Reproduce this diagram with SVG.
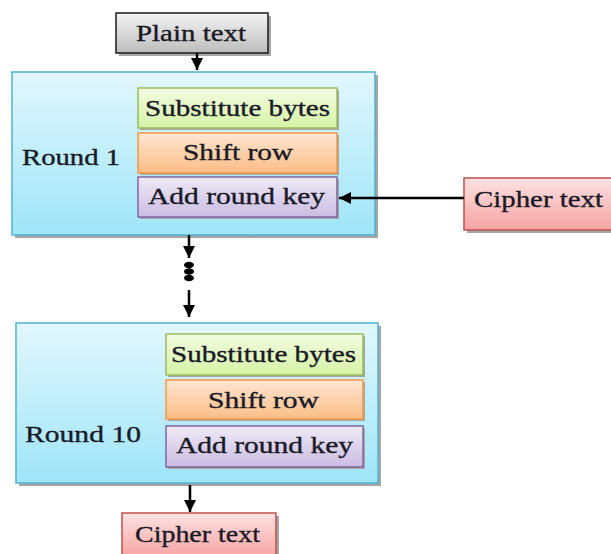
<svg xmlns="http://www.w3.org/2000/svg" width="611" height="554" viewBox="0 0 611 554">
<defs>
<linearGradient id="gGray" x1="0" y1="0" x2="0" y2="1"><stop offset="0" stop-color="#f4f4f4"/><stop offset="1" stop-color="#bdbdbd"/></linearGradient>
<linearGradient id="gBlue" x1="0" y1="0" x2="0" y2="1"><stop offset="0" stop-color="#e2f7fd"/><stop offset="1" stop-color="#9fe5f9"/></linearGradient>
<linearGradient id="gGreen" x1="0" y1="0" x2="0" y2="1"><stop offset="0" stop-color="#f3fce2"/><stop offset="1" stop-color="#d5f3a6"/></linearGradient>
<linearGradient id="gOrange" x1="0" y1="0" x2="0" y2="1"><stop offset="0" stop-color="#fee6d2"/><stop offset="1" stop-color="#fbbd86"/></linearGradient>
<linearGradient id="gPurple" x1="0" y1="0" x2="0" y2="1"><stop offset="0" stop-color="#efeaf6"/><stop offset="1" stop-color="#cbbce2"/></linearGradient>
<linearGradient id="gRed" x1="0" y1="0" x2="0" y2="1"><stop offset="0" stop-color="#fde2e2"/><stop offset="1" stop-color="#f7a3a3"/></linearGradient>
<marker id="ah2" viewBox="0 0 10 10" refX="10" refY="5" markerWidth="14" markerHeight="12" orient="auto" markerUnits="userSpaceOnUse">
<path d="M0,0 L10,5 L0,10 z" fill="#000"/>
</marker>
</defs>
<style>
text{font-family:"Liberation Serif","Times New Roman",serif;font-size:23px;fill:#1a1a26;stroke:#1a1a26;stroke-width:0.35}
.sh{fill:#a6a6a6}
.gray{fill:url(#gGray);stroke:#1a1a1a;stroke-width:1.5}
.blue{fill:url(#gBlue);stroke:#4fb3cf;stroke-width:1.5}
.green{fill:url(#gGreen);stroke:#9bbb59;stroke-width:1.5}
.orange{fill:url(#gOrange);stroke:#f79646;stroke-width:1.5}
.purple{fill:url(#gPurple);stroke:#8064a2;stroke-width:1.5}
.red{fill:url(#gRed);stroke:#c0504d;stroke-width:1.5}
.conn{stroke:#000;stroke-width:2.5;fill:none}
</style>
<rect width="611" height="554" fill="#fff"/>

<g id="plain">
<rect class="sh" x="119" y="16" width="152" height="40"/>
<rect class="gray" x="116" y="13" width="152" height="40"/>
<text x="136" y="41" textLength="110" lengthAdjust="spacingAndGlyphs">Plain text</text>
</g>

<g id="round1">
<rect class="sh" x="15" y="75" width="363" height="163"/>
<rect class="blue" x="12" y="72" width="363" height="163"/>
<text x="22" y="165" textLength="98" lengthAdjust="spacingAndGlyphs">Round 1</text>
</g>
<g id="r1-sub">
<rect class="sh" x="140" y="90" width="199" height="40"/>
<rect class="green" x="138" y="88" width="199" height="40"/>
<text x="145" y="116" textLength="185" lengthAdjust="spacingAndGlyphs">Substitute bytes</text>
</g>
<g id="r1-shift">
<rect class="sh" x="140" y="135" width="199" height="40"/>
<rect class="orange" x="138" y="133" width="199" height="40"/>
<text x="183" y="160" textLength="110" lengthAdjust="spacingAndGlyphs">Shift row</text>
</g>
<g id="r1-add">
<rect class="sh" x="140" y="179" width="199" height="40"/>
<rect class="purple" x="138" y="177" width="199" height="40"/>
<text x="148" y="204" textLength="177" lengthAdjust="spacingAndGlyphs">Add round key</text>
</g>

<g id="cipher-in">
<rect class="sh" x="467" y="181" width="150" height="52"/>
<rect class="red" x="464" y="178" width="150" height="52"/>
<text x="474" y="207" textLength="129" lengthAdjust="spacingAndGlyphs">Cipher text</text>
</g>

<g id="round10">
<rect class="sh" x="19" y="326" width="362" height="160"/>
<rect class="blue" x="16" y="323" width="362" height="160"/>
<text x="25" y="442" textLength="116" lengthAdjust="spacingAndGlyphs">Round 10</text>
</g>
<g id="r10-sub">
<rect class="sh" x="168" y="336" width="197" height="41"/>
<rect class="green" x="166" y="334" width="197" height="41"/>
<text x="171" y="362" textLength="185" lengthAdjust="spacingAndGlyphs">Substitute bytes</text>
</g>
<g id="r10-shift">
<rect class="sh" x="168" y="382" width="197" height="39"/>
<rect class="orange" x="166" y="380" width="197" height="39"/>
<text x="208" y="408" textLength="111" lengthAdjust="spacingAndGlyphs">Shift row</text>
</g>
<g id="r10-add">
<rect class="sh" x="168" y="428" width="197" height="41"/>
<rect class="purple" x="166" y="426" width="197" height="41"/>
<text x="176" y="453" textLength="177" lengthAdjust="spacingAndGlyphs">Add round key</text>
</g>

<g id="cipher-out">
<rect class="sh" x="125" y="516" width="154" height="45"/>
<rect class="red" x="122" y="513" width="154" height="45"/>
<text x="135" y="542" textLength="125" lengthAdjust="spacingAndGlyphs">Cipher text</text>
</g>

<g id="connectors">
<line class="conn" x1="197" y1="53" x2="197" y2="70" marker-end="url(#ah2)"/>
<line class="conn" x1="464" y1="198" x2="339" y2="198" marker-end="url(#ah2)"/>
<line class="conn" x1="189" y1="235" x2="189" y2="258" marker-end="url(#ah2)"/>
<ellipse cx="189" cy="265" rx="5" ry="3.2" fill="#000"/>
<ellipse cx="189" cy="271.5" rx="5" ry="3.2" fill="#000"/>
<ellipse cx="189" cy="278" rx="5" ry="3.2" fill="#000"/>
<line class="conn" x1="189" y1="290" x2="189" y2="317" marker-end="url(#ah2)"/>
<line class="conn" x1="190" y1="485" x2="190" y2="512" marker-end="url(#ah2)"/>
</g>
</svg>
